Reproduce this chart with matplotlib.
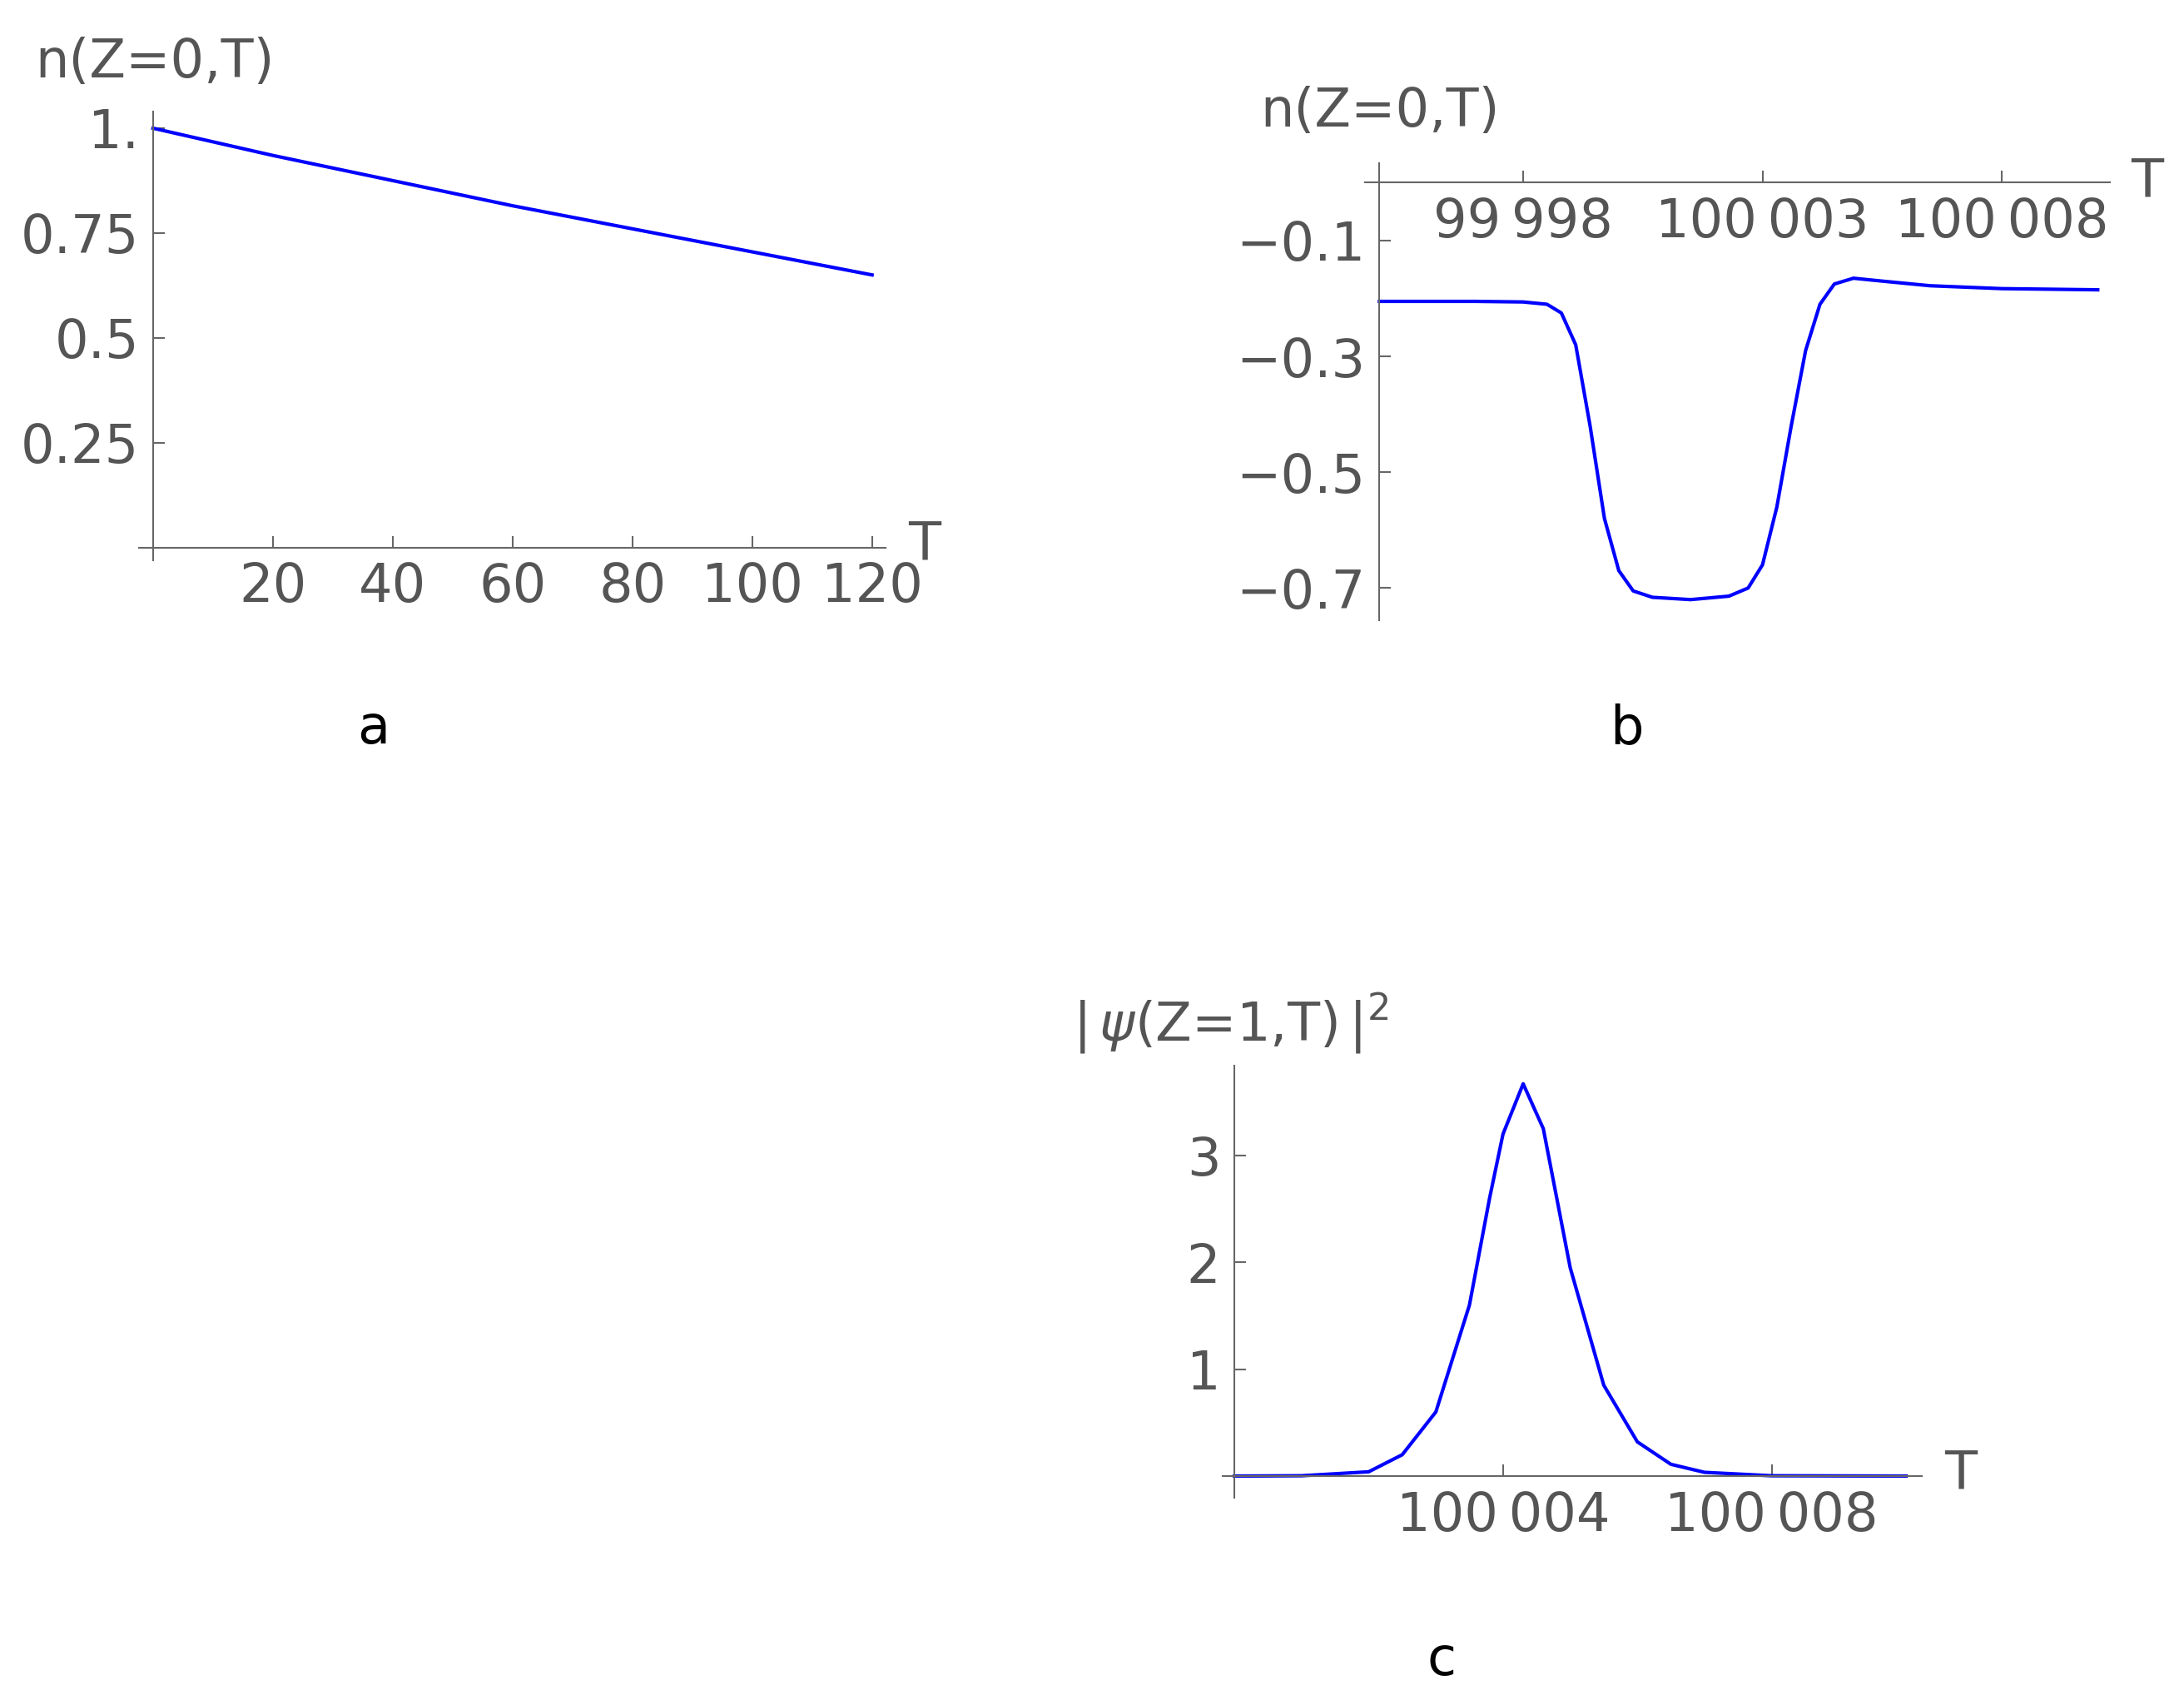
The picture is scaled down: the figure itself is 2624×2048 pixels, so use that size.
import matplotlib
matplotlib.use('Agg')
import matplotlib.pyplot as plt

# panel a
t_a = [0, 20, 40, 60, 80, 100, 120]
n_a = [1.0, 0.935, 0.875, 0.815, 0.76, 0.705, 0.65]

# panel b
t_b = [99995, 99996, 99997, 99998, 99998.5, 99998.8, 99999.1, 99999.4, 99999.7,
       100000.0, 100000.3, 100000.7, 100001.5, 100002.3, 100002.7, 100003.0,
       100003.3, 100003.6, 100003.9, 100004.2, 100004.5, 100004.9, 100005.5,
       100006.5, 100008, 100010]
n_b = [-0.205, -0.205, -0.205, -0.206, -0.21, -0.225, -0.28, -0.42, -0.58,
       -0.67, -0.705, -0.716, -0.72, -0.714, -0.70, -0.66,
       -0.56, -0.42, -0.29, -0.21, -0.175, -0.165, -0.17,
       -0.178, -0.183, -0.185]

# panel c
t_c = [100000, 100001, 100002, 100002.5, 100003, 100003.5, 100003.8, 100004.0,
       100004.3, 100004.6, 100004.8, 100005, 100005.5, 100006, 100006.5,
       100007, 100008, 100010]
p_c = [0.0, 0.003, 0.04, 0.2, 0.6, 1.6, 2.6, 3.2,
       3.67, 3.25, 2.6, 1.95, 0.85, 0.32, 0.11,
       0.035, 0.003, 0.0]

W, H = 1568, 1224
GRAY = '#555555'
FS = 46


def make_ax(fig, x0, y0, x1, y1):
    ax = fig.add_axes([x0 / W, 1 - y1 / H, (x1 - x0) / W, (y1 - y0) / H])
    ax.patch.set_visible(False)
    for s in ['top', 'right']:
        ax.spines[s].set_visible(False)
    for s in ['left', 'bottom']:
        ax.spines[s].set_color('#666666')
        ax.spines[s].set_linewidth(1.5)
    ax.tick_params(colors='#666666', labelcolor=GRAY, labelsize=FS,
                   direction='in', length=10, width=1.5, pad=12)
    return ax


fig = plt.figure(figsize=(26.24, 20.48), dpi=100)

# a
ax = make_ax(fig, 100, 80, 636, 402)
ax.plot(t_a, n_a, color='#0000ff', lw=3)
ax.set_xlim(-2.3, 122.3)
ax.set_ylim(-0.03, 1.04)
ax.spines['left'].set_position(('data', 0))
ax.spines['bottom'].set_position(('data', 0))
ax.set_xticks([20, 40, 60, 80, 100, 120])
ax.set_yticks([0.25, 0.5, 0.75, 1.0], ['0.25', '0.5', '0.75', '1.'])
fig.text(25 / W, 1 - 45 / H, 'n(Z=0,T)', fontsize=FS, color=GRAY, va='center')
fig.text(652 / W, 1 - 392 / H, 'T', fontsize=FS, color=GRAY, va='center')
fig.text(268 / W, 1 - 523 / H, 'a', fontsize=FS, color='black', ha='center', va='center')

# b
ax = make_ax(fig, 980, 117, 1515, 445)
ax.plot(t_b, n_b, color='#0000ff', lw=3)
ax.set_xlim(99994.7, 100010.26)
ax.set_ylim(-0.755, 0.034)
ax.spines['left'].set_position(('data', 99995))
ax.spines['bottom'].set_position(('data', 0))
ax.set_xticks([99998, 100003, 100008], ['99\u2009998', '100\u2009003', '100\u2009008'])
ax.set_yticks([-0.1, -0.3, -0.5, -0.7], ['\u22120.1', '\u22120.3', '\u22120.5', '\u22120.7'])
fig.text(905 / W, 1 - 80 / H, 'n(Z=0,T)', fontsize=FS, color=GRAY, va='center')
fig.text(1530 / W, 1 - 131 / H, 'T', fontsize=FS, color=GRAY, va='center')
fig.text(1168 / W, 1 - 523 / H, 'b', fontsize=FS, color='black', ha='center', va='center')

# c
ax = make_ax(fig, 878, 765, 1380, 1075)
ax.plot(t_c, p_c, color='#0000ff', lw=3)
ax.set_xlim(99999.83, 100010.24)
ax.set_ylim(-0.2, 3.84)
ax.spines['left'].set_position(('data', 100000))
ax.spines['bottom'].set_position(('data', 0))
ax.set_xticks([100004, 100008], ['100\u2009004', '100\u2009008'])
ax.set_yticks([1, 2, 3])
fig.text(770 / W, 1 - 735 / H, r'$|\,\psi$(Z=1,T)$\,|^2$', fontsize=FS, color=GRAY, va='center')
fig.text(1396 / W, 1 - 1059 / H, 'T', fontsize=FS, color=GRAY, va='center')
fig.text(1035 / W, 1 - 1192 / H, 'c', fontsize=FS, color='black', ha='center', va='center')

fig.savefig('out.png', dpi=100)
